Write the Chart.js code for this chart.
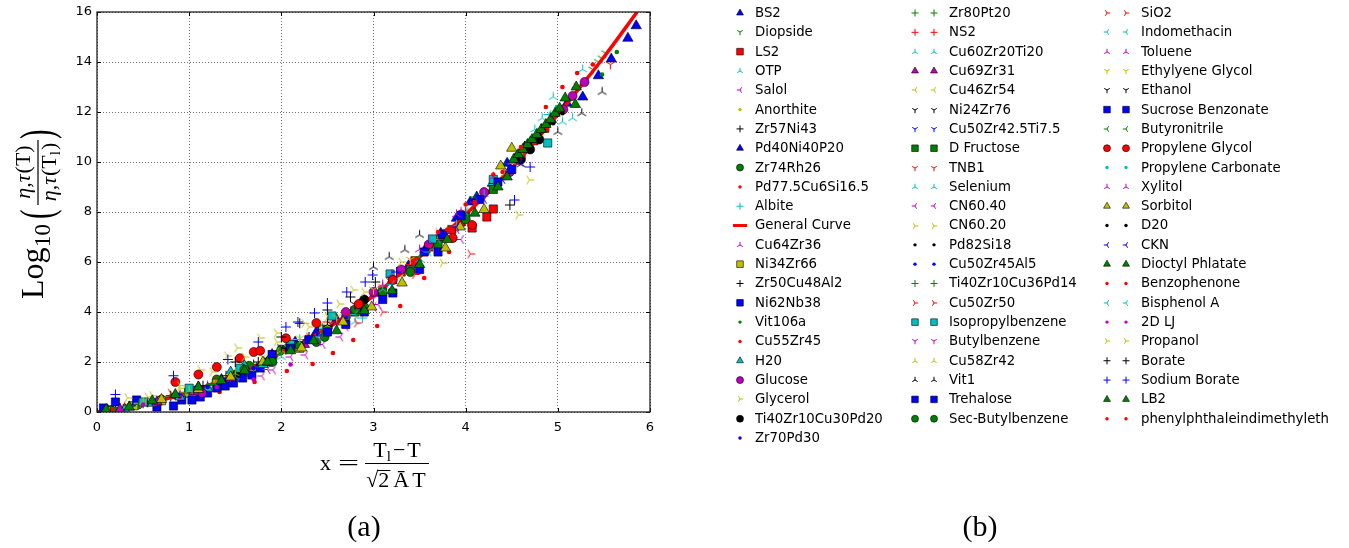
<!DOCTYPE html>
<html>
<head>
<meta charset="utf-8">
<script src="https://cdn.jsdelivr.net/npm/chart.js@4.4.0/dist/chart.umd.min.js"></script>
<style>
  html, body { margin: 0; padding: 0; background: #fff; }
  canvas { display: block; }
</style>
</head>
<body>
<canvas id="myChart" width="1349" height="548"></canvas>
<script>
const xTicks = [0, 1, 2, 3, 4, 5, 6];
const yTicks = [0, 2, 4, 6, 8, 10, 12, 14, 16];

// general curve
const curveX = [0, 0.5, 1, 1.5, 2, 2.5, 3, 3.5, 4, 4.5, 5, 5.5, 5.86];
const curveY = [0, 0.3, 0.8, 1.5, 2.35, 3.35, 4.65, 6.2, 7.9, 9.75, 11.9, 14.2, 16];

// measured points, [x, y] pairs
const bs2 = [[5.85,15.45],[5.76,14.95],[5.58,14.12],[5.44,13.45],[5.27,12.6],[5.1,12.35],[4.93,11.7],[4.78,11.0],[4.64,10.6],[4.45,9.95]];
const diopside = [[5.52,14.35],[5.48,14.15],[5.44,14.0],[5.38,13.7],[5.22,13.05],[5.02,12.15],[4.82,11.25],[4.56,10.1],[4.32,9.05]];
const ls2 = [[4.86,11.35],[4.74,10.85],[4.6,10.3],[4.3,8.12],[4.23,7.8],[4.07,7.36],[3.95,7.6],[3.85,7.3],[3.75,7.0],[3.6,6.6],[3.45,6.05],[3.3,5.6]];
const otp = [[5.27,13.7],[5.16,11.75],[5.05,11.6],[4.83,11.75],[4.6,10.4],[4.3,9.2],[4.0,8.1],[3.6,6.6],[3.2,5.3],[2.8,4.1],[2.4,3.3]];
const salol = [[1.79,1.44],[1.91,1.68],[2.26,2.28],[2.45,2.7],[2.64,3.0],[3.05,4.3],[3.4,5.6],[3.9,7.3]];
const anorthite = [[3.3,5.5],[3.7,6.9],[4.1,8.3],[4.4,9.4],[4.6,10.3],[4.8,11.2]];
const zr57Ni43 = [[0.2,0.15],[0.5,0.35],[0.8,0.65],[1.1,1.0],[1.4,1.45],[1.7,1.9],[2.0,2.45],[2.3,3.0]];
const pd40Ni40P20 = [[0.12,0.05],[0.35,0.2],[0.6,0.4],[0.85,0.65],[1.1,1.0],[1.35,1.3],[1.6,1.7],[1.9,2.3],[2.15,2.8],[2.38,3.2],[2.6,3.7],[2.85,4.3],[3.02,4.75],[3.2,5.25],[3.38,5.85],[3.56,6.5],[3.73,7.15],[3.9,7.75],[4.05,8.4],[4.12,8.6],[4.29,9.15]];
const zr74Rh26 = [[0.15,0.08],[0.45,0.3],[0.7,0.5],[1.0,0.85],[1.3,1.3],[1.65,1.85],[2.0,2.5],[2.38,2.8],[2.47,3.0],[2.7,3.8],[2.9,4.2]];
const pd775Cu6Si165 = [[1.33,0.8],[1.71,1.2],[2.06,1.64],[2.34,1.92],[2.56,2.36],[2.78,2.88],[3.04,3.44],[3.29,4.24],[3.55,5.36],[3.82,6.4]];
const albite = [[2.2,2.9],[2.45,3.35],[2.6,3.7],[2.75,4.0],[2.88,3.76],[2.9,4.5],[3.2,5.3]];
const cu64Zr36 = [[0.3,0.2],[0.6,0.45],[0.9,0.7],[1.2,1.05],[1.5,1.45],[1.8,1.95],[2.1,2.5],[2.4,3.05]];
const ni34Zr66 = [[0.1,0.05],[0.4,0.25],[0.7,0.45],[1.0,0.75],[1.3,1.15],[1.6,1.6],[1.9,2.05],[2.2,2.55]];
const zr50Cu48Al2 = [[0.25,0.15],[0.55,0.4],[0.85,0.7],[1.15,1.05],[1.45,1.5],[1.75,2.0],[2.05,2.55],[2.2,3.55]];
const ni62Nb38 = [[0.07,0.16],[0.2,0.4],[0.43,0.48],[0.65,0.2],[0.83,0.24],[0.92,0.48],[1.03,0.48],[1.12,0.6],[1.2,0.76],[1.3,0.96],[1.39,1.04],[1.48,1.16],[1.58,1.36],[1.68,1.48],[1.77,1.76],[1.84,2.0]];
const vit106a = [[0.2,0.1],[0.6,0.4],[1.0,0.8],[1.5,1.5],[2.0,2.35],[2.5,3.3],[5.48,13.5],[5.64,14.4]];
const cu55Zr45 = [[0.3,0.25],[0.7,0.5],[1.1,0.9],[4.87,12.2],[5.05,13.0],[5.21,13.56],[5.38,13.9]];
const h20 = [[0.3,0.1],[0.6,0.35],[0.9,0.6],[1.2,0.95],[1.45,1.6],[1.6,1.85],[1.8,1.9]];
const glucose = [[1.14,0.76],[2.7,4.0],[3.0,4.8],[3.3,5.7],[3.6,6.7],[3.95,7.9],[4.2,8.8],[4.48,9.6],[4.58,10.08],[5.06,12.1],[5.16,12.64],[5.29,13.2]];
const glycerol = [[0.33,0.56],[0.6,0.65],[0.9,0.95],[1.12,1.68],[1.41,2.24],[1.52,2.56],[1.77,2.96],[1.95,3.16],[2.25,3.55],[2.63,4.32],[2.78,4.88],[3.3,6.0],[3.7,7.2]];
const ti40Zr10Cu30Pd20 = [[1.5,1.5],[2.9,4.5],[4.6,10.1],[4.7,10.5],[4.8,10.9]];
const zr70Pd30 = [[0.4,0.3],[0.9,0.7],[1.4,1.3],[1.9,2.1],[2.4,3.1]];
const zr80Pt20 = [[0.35,0.25],[0.8,0.6],[1.25,1.1],[1.7,1.8],[2.15,2.6]];
const ns2 = [[2.5,3.6],[2.8,4.2],[3.1,5.0],[3.4,5.9],[3.7,6.9],[4.0,8.0],[4.3,9.05],[4.6,10.2]];
const cu60Zr20Ti20 = [[0.5,0.3],[1.0,0.75],[1.5,1.4],[2.0,2.2],[2.5,3.2],[2.8,3.6]];
const cu69Zr31 = [[0.25,0.1],[0.65,0.4],[1.05,0.8],[1.45,1.35],[1.85,2.0],[2.25,2.7]];
const cu46Zr54 = [[0.45,0.35],[0.95,0.8],[1.45,1.5],[1.95,2.4],[2.45,3.4]];
const ni24Zr76 = [[0.55,0.4],[1.05,0.9],[1.55,1.6],[2.05,2.5],[2.55,3.5]];
const cu50Zr425Ti75 = [[0.6,0.45],[1.1,0.95],[1.6,1.65],[2.1,2.55],[2.6,3.6]];
const dFructose = [[2.5,3.3],[2.8,4.0],[3.1,4.8],[3.4,5.7],[3.7,6.7],[4.0,7.8],[4.3,8.9]];
const tnb1 = [[2.6,3.6],[3.1,5.0],[3.6,6.6],[4.1,8.3],[4.5,9.8],[4.9,11.5],[5.2,12.9],[5.57,13.9]];
const selenium = [[3.1,4.9],[3.5,6.1],[3.9,7.5],[4.2,8.7],[4.5,10.0],[4.75,11.3],[4.95,12.6]];
const cn6040 = [[1.85,1.7],[2.1,2.2],[2.4,2.8],[2.7,3.4],[3.0,4.2],[3.95,6.9]];
const cn6020 = [[2.1,2.9],[2.5,3.8],[2.9,4.8],[3.3,5.2],[3.75,5.96],[4.57,7.88],[4.69,9.28]];
const pd82Si18 = [[4.55,10.3],[4.65,10.55],[4.75,10.85],[4.85,11.25],[4.95,11.55],[5.05,11.95]];
const cu50Zr45Al5 = [[0.7,0.55],[1.2,1.0],[1.7,1.75],[2.2,2.7],[2.7,3.8]];
const ti40Zr10Cu36Pd14 = [[0.45,0.3],[0.95,0.75],[1.45,1.4],[1.95,2.3],[2.45,3.3]];
const cu50Zr50 = [[0.8,0.75],[1.3,1.3],[1.9,2.3],[2.3,3.0],[2.7,3.9]];
const isopropylbenzene = [[0.5,0.4],[1.0,0.95],[1.55,1.75],[2.1,2.7],[2.55,3.84],[3.18,5.52],[3.64,6.92],[4.3,9.3],[4.89,10.76]];
const butylbenzene = [[2.2,2.6],[2.6,3.5],[3.0,4.55],[3.4,5.8],[3.8,7.2],[4.2,8.6]];
const cu58Zr42 = [[0.5,0.4],[1.0,0.85],[1.5,1.55],[2.0,2.45],[2.5,3.45]];
const vit1 = [[2.5,3.5],[3.0,5.8],[3.17,6.2],[3.34,6.48],[3.5,7.08],[4.6,9.9],[5.0,11.2],[5.26,11.95],[5.48,12.8]];
const trehalose = [[1.9,2.3],[2.1,2.55],[2.3,2.9],[2.5,3.2],[2.7,3.5],[2.9,4.0],[3.1,4.5],[3.21,4.76],[3.5,5.7],[3.7,6.4]];
const secButylbenzene = [[1.6,1.7],[1.9,2.0],[2.2,2.65],[2.8,4.1],[3.4,5.6],[4.0,7.7]];
const sio2 = [[2.82,3.56],[3.1,4.0],[3.45,5.5],[4.05,6.32]];
const indomethacin = [[3.7,6.9],[4.0,8.0],[4.3,9.1],[4.6,10.4],[4.9,11.9]];
const toluene = [[2.8,4.2],[3.2,5.5],[3.6,6.85],[3.95,8.0],[4.3,9.4]];
const ethyleneGlycol = [[1.8,2.2],[2.2,2.95],[2.6,3.8],[3.0,4.9],[3.4,6.1]];
const ethanol = [[2.0,2.6],[2.4,3.4],[2.8,4.3],[3.2,5.3],[3.6,6.5]];
const sucroseBenzonate = [[3.55,6.4],[3.75,7.1],[3.95,7.85],[4.15,8.5],[4.35,9.2],[4.5,9.7]];
const butyronitrile = [[3.5,6.2],[3.8,7.3],[4.1,8.6],[4.4,9.8]];
const propyleneGlycol = [[0.85,1.2],[1.1,1.5],[1.3,1.8],[1.55,2.15],[1.7,2.4],[1.77,2.45],[2.05,2.95],[2.38,3.56],[2.84,4.32],[3.21,5.28],[3.86,6.96],[4.07,7.48]];
const propyleneCarbonate = [[4.5,10.0],[4.7,10.9],[4.93,11.9],[4.99,12.2]];
const xylitol = [[2.7,3.9],[3.1,5.1],[3.5,6.5],[3.9,7.9]];
const sorbitol = [[0.7,0.5],[1.1,0.9],[1.45,1.4],[1.8,2.0],[2.22,2.56],[2.67,3.6],[2.98,4.2],[3.31,5.16],[3.78,6.56],[3.94,7.4],[4.2,8.1],[4.38,9.84],[4.5,10.55]];
const d20 = [[4.7,10.7],[4.8,11.1],[4.9,11.5],[5.0,11.9]];
const ckn = [[3.9,7.4],[4.2,8.5],[4.4,9.3],[4.6,10.0]];
const dioctylPhlatate = [[4.45,9.4],[4.52,10.1],[4.57,10.3],[4.62,10.5],[4.67,10.7],[4.72,10.9],[4.77,11.1],[4.82,11.3],[4.87,11.5],[4.92,11.7],[4.97,11.95],[5.02,12.15],[5.08,12.56],[5.19,12.3],[5.2,13.0]];
const benzophenone = [[3.7,7.2],[4.0,8.3],[4.3,9.5],[4.6,10.6]];
const bisphenolA = [[2.4,3.0],[2.8,3.9],[3.2,5.1],[3.6,6.4]];
const lj2d = [[0.5,0.3],[0.9,0.6],[1.3,1.0],[1.7,1.3],[2.1,1.9]];
const propanol = [[0.55,0.6],[0.9,1.05],[1.25,1.6],[1.6,2.2],[1.95,2.8],[2.3,3.4]];
const borate = [[1.5,2.0],[2.0,3.0],[2.5,4.08],[2.75,4.6],[3.02,5.2],[4.48,8.28]];
const sodiumBorate = [[0.2,0.7],[0.83,1.45],[1.42,2.1],[1.75,2.8],[2.05,3.4],[2.18,3.6],[2.36,3.96],[2.5,4.36],[2.71,4.8],[2.91,5.2],[2.99,5.48],[3.25,5.6],[4.53,8.48],[4.7,9.8]];
const lb2 = [[0.1,0.1],[0.35,0.2],[0.6,0.45],[0.85,0.7],[1.1,1.0],[1.35,1.25],[1.6,1.65],[1.85,2.0],[2.1,2.45],[2.35,2.85],[2.6,3.25],[2.9,4.05],[3.2,4.85],[3.5,5.9],[3.8,6.9],[4.1,7.95],[4.35,9.0]];
const phenylphthalein = [[3.8,7.3],[4.1,8.4],[4.4,9.6]];

const seriesNames = [
  "BS2", "Diopside", "LS2", "OTP", "Salol", "Anorthite", "Zr57Ni43", "Pd40Ni40P20",
  "Zr74Rh26", "Pd77.5Cu6Si16.5", "Albite", "General Curve", "Cu64Zr36", "Ni34Zr66",
  "Zr50Cu48Al2", "Ni62Nb38", "Vit106a", "Cu55Zr45", "H20", "Glucose", "Glycerol",
  "Ti40Zr10Cu30Pd20", "Zr70Pd30",
  "Zr80Pt20", "NS2", "Cu60Zr20Ti20", "Cu69Zr31", "Cu46Zr54", "Ni24Zr76", "Cu50Zr42.5Ti7.5",
  "D Fructose", "TNB1", "Selenium", "CN60.40", "CN60.20", "Pd82Si18", "Cu50Zr45Al5",
  "Ti40Zr10Cu36Pd14", "Cu50Zr50", "Isopropylbenzene", "Butylbenzene", "Cu58Zr42", "Vit1",
  "Trehalose", "Sec-Butylbenzene",
  "SiO2", "Indomethacin", "Toluene", "Ethylyene Glycol", "Ethanol", "Sucrose Benzonate",
  "Butyronitrile", "Propylene Glycol", "Propylene Carbonate", "Xylitol", "Sorbitol", "D20",
  "CKN", "Dioctyl Phlatate", "Benzophenone", "Bisphenol A", "2D LJ", "Propanol", "Borate",
  "Sodium Borate", "LB2", "phenylphthaleindimethyleth"
];
const seriesPoints = [
  bs2, diopside, ls2, otp, salol, anorthite, zr57Ni43, pd40Ni40P20,
  zr74Rh26, pd775Cu6Si165, albite, null, cu64Zr36, ni34Zr66,
  zr50Cu48Al2, ni62Nb38, vit106a, cu55Zr45, h20, glucose, glycerol,
  ti40Zr10Cu30Pd20, zr70Pd30,
  zr80Pt20, ns2, cu60Zr20Ti20, cu69Zr31, cu46Zr54, ni24Zr76, cu50Zr425Ti75,
  dFructose, tnb1, selenium, cn6040, cn6020, pd82Si18, cu50Zr45Al5,
  ti40Zr10Cu36Pd14, cu50Zr50, isopropylbenzene, butylbenzene, cu58Zr42, vit1,
  trehalose, secButylbenzene,
  sio2, indomethacin, toluene, ethyleneGlycol, ethanol, sucroseBenzonate,
  butyronitrile, propyleneGlycol, propyleneCarbonate, xylitol, sorbitol, d20,
  ckn, dioctylPhlatate, benzophenone, bisphenolA, lj2d, propanol, borate,
  sodiumBorate, lb2, phenylphthalein
];
// matplotlib style marker codes and colour letters
const seriesMarkers = [
  "^","1","s","2","3",".","+","^","o",".","+","-","2","s","+","s",".",".","^","o","4","o",".",
  "+","+","2","^","3","1","1","s","1","2","3","4",".",".","+","4","s","1","2","2","s","o",
  "4","3","2","1","1","s","3","o",".","2","^",".","3","^",".","3",".","4","+","+","^","."
];
const seriesColors = [
  "b","g","r","c","m","y","k","b","g","r","c","r","m","y","k","b","g","r","c","m","y","k","b",
  "g","r","c","m","y","k","b","g","r","c","m","y","k","b","g","r","c","m","y","k","b","g",
  "r","c","m","y","k","b","g","r","c","m","y","k","b","g","r","c","m","y","k","b","g","r"
];
const legendColumns = [23, 22, 22];

const palette = { b: "#0000ff", g: "#008000", r: "#ff0000", c: "#00bfbf", m: "#bf00bf", y: "#bfbf00", k: "#000000" };

// Y-shaped tri markers drawn on a small canvas
function triImage(code, color, arm) {
  const s = Math.ceil(arm * 2 + 3);
  const c = document.createElement("canvas");
  c.width = s; c.height = s;
  const g = c.getContext("2d");
  const m = s / 2;
  const base = { "1": 90, "2": -90, "3": 180, "4": 0 }[code];
  g.strokeStyle = color;
  g.lineWidth = 1;
  g.beginPath();
  for (let k = 0; k < 3; k++) {
    const a = (base + k * 120) * Math.PI / 180;
    g.moveTo(m, m);
    g.lineTo(m + arm * Math.cos(a), m + arm * Math.sin(a));
  }
  g.stroke();
  return c;
}

function pointOptions(code, color) {
  switch (code) {
    case "^": return { pointStyle: "triangle", pointRadius: 6, pointBackgroundColor: color, pointBorderColor: "#000", pointBorderWidth: 0.6 };
    case "s": return { pointStyle: "rect", pointRadius: 5.8, pointBackgroundColor: color, pointBorderColor: "#000", pointBorderWidth: 0.6 };
    case "o": return { pointStyle: "circle", pointRadius: 4.5, pointBackgroundColor: color, pointBorderColor: "#000", pointBorderWidth: 0.6 };
    case ".": return { pointStyle: "circle", pointRadius: 2.3, pointBackgroundColor: color, pointBorderColor: color, pointBorderWidth: 0 };
    case "+": return { pointStyle: "cross", pointRadius: 5, pointBackgroundColor: color, pointBorderColor: color, pointBorderWidth: 1 };
    default: return { pointStyle: triImage(code, color, 5), pointRadius: 4 };
  }
}

const datasets = seriesNames.map((name, i) => {
  const color = palette[seriesColors[i]];
  if (seriesPoints[i] === null) {
    return {
      type: "line",
      label: name,
      data: curveX.map((x, k) => ({ x, y: curveY[k] })),
      borderColor: color,
      borderWidth: 3.5,
      pointRadius: 0,
      showLine: true,
      cubicInterpolationMode: "monotone",
      order: -i
    };
  }
  return Object.assign({
    label: name,
    data: seriesPoints[i].map(p => ({ x: p[0], y: p[1] })),
    showLine: false,
    order: -i
  }, pointOptions(seriesMarkers[i], color));
});

function legendMarker(ctx, code, color, x, y) {
  ctx.save();
  ctx.fillStyle = color;
  ctx.strokeStyle = "#000";
  ctx.lineWidth = 0.6;
  ctx.beginPath();
  if (code === "^") {
    const r = 4;
    ctx.moveTo(x, y - r);
    ctx.lineTo(x + r * 0.866, y + r / 2);
    ctx.lineTo(x - r * 0.866, y + r / 2);
    ctx.closePath();
    ctx.fill(); ctx.stroke();
  } else if (code === "s") {
    ctx.rect(x - 3.3, y - 3.3, 6.6, 6.6);
    ctx.fill(); ctx.stroke();
  } else if (code === "o") {
    ctx.arc(x, y, 3.5, 0, Math.PI * 2);
    ctx.fill(); ctx.stroke();
  } else if (code === ".") {
    ctx.arc(x, y, 1.7, 0, Math.PI * 2);
    ctx.fill();
  } else if (code === "+") {
    ctx.strokeStyle = color;
    ctx.lineWidth = 1;
    ctx.moveTo(x - 3.5, y); ctx.lineTo(x + 3.5, y);
    ctx.moveTo(x, y - 3.5); ctx.lineTo(x, y + 3.5);
    ctx.stroke();
  } else if (code === "-") {
    ctx.fillRect(x - 7, y - 1.5, 14, 3);
  } else {
    const img = triImage(code, color, 3.2);
    ctx.drawImage(img, Math.round(x - img.width / 2), Math.round(y - img.height / 2));
  }
  ctx.restore();
}

const legendPlugin = {
  id: "columnLegend",
  afterDraw(chart) {
    const ctx = chart.ctx;
    const colX = [[740], [915, 934], [1107, 1126]];
    const textX = [755, 949, 1141];
    const top = 13, step = 19.32;
    let idx = 0;
    ctx.save();
    ctx.font = '13.3px "DejaVu Sans"';
    ctx.fillStyle = "#000";
    ctx.textBaseline = "middle";
    legendColumns.forEach((count, c) => {
      for (let r = 0; r < count; r++, idx++) {
        const y = top + r * step;
        const code = seriesMarkers[idx];
        const color = palette[seriesColors[idx]];
        colX[c].forEach(mx => legendMarker(ctx, code, color, mx, y));
        ctx.fillStyle = "#000";
        ctx.fillText(seriesNames[idx], textX[c], y + 0.5);
      }
    });
    ctx.restore();
  }
};

function runsWidth(ctx, runs) {
  let w = 0;
  for (const r of runs) { ctx.font = r.font; w += ctx.measureText(r.text).width + (r.gap || 0); }
  return w;
}
function drawRuns(ctx, runs, x, y) {
  for (const r of runs) {
    ctx.font = r.font;
    ctx.fillText(r.text, x, y + (r.dy || 0));
    x += ctx.measureText(r.text).width + (r.gap || 0);
  }
  return x;
}

// tall thin parenthesis
function bigParen(ctx, ch, x, y) {
  ctx.save();
  ctx.translate(x, y);
  ctx.scale(0.62, 1);
  ctx.font = "46px " + serif;
  ctx.fillText(ch, 0, 0);
  ctx.restore();
}

const serif = '"Liberation Serif"';
const titlesPlugin = {
  id: "axisTitles",
  afterDraw(chart) {
    const ctx = chart.ctx;
    ctx.save();
    ctx.fillStyle = "#000";
    ctx.strokeStyle = "#000";
    ctx.textBaseline = "alphabetic";
    ctx.textAlign = "left";

    // x title: x = (Tl - T) / (sqrt2 A T)
    ctx.font = "22px " + serif;
    ctx.fillText("x", 320, 470);
    ctx.save();
    ctx.translate(338, 470);
    ctx.scale(1.7, 1);
    ctx.fillText("=", 0, 0);
    ctx.restore();
    ctx.lineWidth = 1;
    ctx.beginPath(); ctx.moveTo(365, 463.5); ctx.lineTo(429, 463.5); ctx.stroke();
    const f22 = "22px " + serif, f15 = "15px " + serif;
    const num = [
      { text: "T", font: f22 }, { text: "l", font: f15, dy: 4, gap: 2 },
      { text: "\u2212", font: f22, gap: 2 }, { text: "T", font: f22 }
    ];
    drawRuns(ctx, num, 397 - runsWidth(ctx, num) / 2, 457);
    const den = [
      { text: "\u221A", font: f22 }, { text: "2", font: f22, gap: 4 },
      { text: "\u0100", font: f22, gap: 3 }, { text: "T", font: f22 }
    ];
    const dx = 396 - runsWidth(ctx, den) / 2;
    ctx.font = f22;
    const sq = ctx.measureText("\u221A").width;
    const two = ctx.measureText("2").width;
    drawRuns(ctx, den, dx, 487);
    ctx.beginPath(); ctx.moveTo(dx + sq - 1, 470.5); ctx.lineTo(dx + sq + two + 1, 470.5); ctx.stroke();

    // y title, rotated
    ctx.save();
    ctx.translate(38, 300);
    ctx.rotate(-Math.PI / 2);
    ctx.font = "32px " + serif;
    ctx.fillText("Log", 1, 5);
    ctx.font = "23px " + serif;
    ctx.fillText("10", 53, 12);
    bigParen(ctx, "(", 81, 14);
    const fi = "italic 22px " + serif, fr = "22px " + serif, fs = "15px " + serif;
    const top = [{ text: "\u03B7,\u03C4", font: fi, gap: 1 }, { text: "(T)", font: fr }];
    const bot = [{ text: "\u03B7,\u03C4", font: fi, gap: 1 }, { text: "(T", font: fr }, { text: "l", font: fs, dy: 4, gap: 1 }, { text: ")", font: fr }];
    const mid = 128;
    drawRuns(ctx, top, mid - runsWidth(ctx, top) / 2, -8);
    drawRuns(ctx, bot, mid - runsWidth(ctx, bot) / 2, 18);
    ctx.lineWidth = 1.2;
    ctx.beginPath(); ctx.moveTo(95, 0); ctx.lineTo(160, 0); ctx.stroke();
    bigParen(ctx, ")", 161, 14);
    ctx.restore();

    // panel captions
    ctx.font = "30px " + serif;
    ctx.textAlign = "center";
    ctx.fillText("(a)", 364, 536);
    ctx.fillText("(b)", 980, 536);
    ctx.restore();
  }
};

const framePlugin = {
  id: "axesFrame",
  afterDatasetsDraw(chart) {
    const { ctx, chartArea: a, scales } = chart;
    ctx.save();
    ctx.strokeStyle = "#000";
    ctx.lineWidth = 1;
    ctx.beginPath();
    xTicks.forEach(v => {
      const px = Math.round(scales.x.getPixelForValue(v)) + 0.5;
      ctx.moveTo(px, a.bottom); ctx.lineTo(px, a.bottom - 4);
      ctx.moveTo(px, a.top); ctx.lineTo(px, a.top + 4);
    });
    yTicks.forEach(v => {
      const py = Math.round(scales.y.getPixelForValue(v)) + 0.5;
      ctx.moveTo(a.left, py); ctx.lineTo(a.left + 4, py);
      ctx.moveTo(a.right, py); ctx.lineTo(a.right - 4, py);
    });
    ctx.stroke();
    ctx.lineWidth = 1.3;
    ctx.strokeStyle = "#222";
    ctx.strokeRect(a.left, a.top, a.right - a.left, a.bottom - a.top);
    ctx.restore();
  }
};

const tickFont = { family: "DejaVu Sans", size: 13 };
const gridStyle = { color: "rgba(0,0,0,0.55)", lineWidth: 1, drawTicks: false };

const canvasArea = document.getElementById("myChart").getContext("2d");
const myChart = new Chart(canvasArea, {
  type: "scatter",
  data: { datasets },
  options: {
    responsive: false,
    animation: false,
    events: [],
    layout: { padding: { left: 0, right: 699, top: 12, bottom: 0 } },
    plugins: { legend: { display: false }, tooltip: { enabled: false } },
    scales: {
      x: {
        type: "linear", min: 0, max: 6,
        afterBuildTicks: s => { s.ticks = xTicks.map(v => ({ value: v })); },
        afterFit: s => { s.height = 136; s.paddingLeft = 0; s.paddingRight = 0; },
        ticks: { font: tickFont, color: "#000", padding: 8, maxRotation: 0 },
        grid: gridStyle,
        border: { display: false, dash: [1, 2] }
      },
      y: {
        type: "linear", min: 0, max: 16,
        afterBuildTicks: s => { s.ticks = yTicks.map(v => ({ value: v })); },
        afterFit: s => { s.width = 97; s.paddingTop = 0; s.paddingBottom = 0; },
        ticks: { font: tickFont, color: "#000", padding: 5 },
        grid: gridStyle,
        border: { display: false, dash: [1, 2] }
      }
    }
  },
  plugins: [framePlugin, titlesPlugin, legendPlugin]
});
</script>
</body>
</html>
